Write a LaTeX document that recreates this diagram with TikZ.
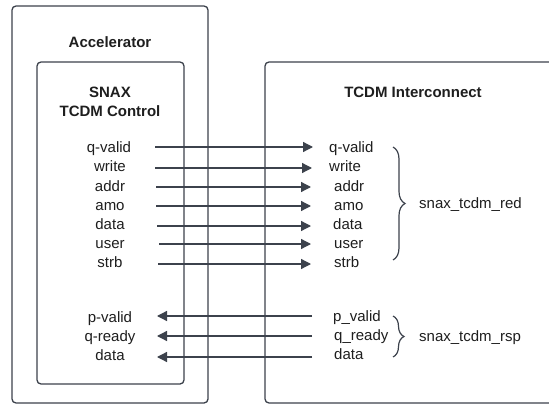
\documentclass[tikz,border=0pt]{standalone}
\usepackage{fontspec}
\setmainfont{Liberation Sans}
\usetikzlibrary{arrows.meta,decorations.pathreplacing}
\definecolor{linegray}{HTML}{3C424C}
\definecolor{textdark}{HTML}{1E1E1E}

\begin{document}
\begin{tikzpicture}[x=1pt,y=-1pt,
  box/.style={draw=linegray,line width=1.3pt,rounded corners=4pt},
  title/.style={font=\fontsize{15}{19}\selectfont\bfseries,text=textdark,align=center,inner sep=0pt},
  sig/.style={font=\fontsize{15}{17}\selectfont,text=textdark,inner sep=0pt,text height=11pt,text depth=3pt},
  wire/.style={draw=linegray,line width=1.3pt,-{Triangle[length=10pt,width=10pt]}},
  grp/.style={draw=linegray,line width=1.2pt,decorate,decoration={brace,amplitude=12pt}}]
\useasboundingbox (0,0) rectangle (549,404);
\fill[white] (0,0) rectangle (549,404);

% enclosing blocks
\draw[box] (12,6) rectangle (208,403);
\draw[box] (37,62) rectangle (184,384);
\draw[box] (560,62) -- (265,62) -- (265,403) -- (560,403);

% block titles
\node[title] (acc) at (110,42) {Accelerator};
\node[title] (ctrl) at (110,102) {SNAX\\TCDM Control};
\node[title] (ic) at (413,92) {TCDM Interconnect};

% request signals (controller side)
\node[sig] (lqv) at (109,148) {q-valid};
\node[sig] (lwr) at (110,167) {write};
\node[sig] (lad) at (110,187) {addr};
\node[sig] (lam) at (110,206) {amo};
\node[sig] (lda) at (110,225) {data};
\node[sig] (lus) at (110,244) {user};
\node[sig] (lst) at (110,263) {strb};

% response signals (controller side)
\node[sig] (lpv) at (110,318) {p-valid};
\node[sig] (lqr) at (110,337) {q-ready};
\node[sig] (ldr) at (110,356) {data};

% request signals (interconnect side)
\node[sig,anchor=west] (rqv) at (329,148) {q-valid};
\node[sig,anchor=west] (rwr) at (329,167) {write};
\node[sig,anchor=west] (rad) at (334,187) {addr};
\node[sig,anchor=west] (ram) at (334,206) {amo};
\node[sig,anchor=west] (rda) at (333,225) {data};
\node[sig,anchor=west] (rus) at (334,244) {user};
\node[sig,anchor=west] (rst) at (334,263) {strb};

% response signals (interconnect side)
\node[sig,anchor=west] (rpv) at (333,317) {p\_valid};
\node[sig,anchor=west] (rqr) at (334,336) {q\_ready};
\node[sig,anchor=west] (rdr) at (334,355) {data};

% wire end points
\foreach \n/\xa/\xb/\y in {qv/155/313/147, wr/155/312/168, ad/156/311/187, am/156/311/206,
                          da/157/311/226, us/159/311/244, st/158/311/264}{
  \coordinate (s\n) at (\xa,\y);
  \coordinate (t\n) at (\xb,\y);
}
\foreach \n/\y in {pv/316, qr/336, dr/357}{
  \coordinate (s\n) at (312,\y);
  \coordinate (t\n) at (157,\y);
}

% request wires
\foreach \n in {qv,wr,ad,am,da,us,st}{
  \draw[wire] (s\n) -- (t\n);
}
% response wires
\foreach \n in {pv,qr,dr}{
  \draw[wire] (s\n) -- (t\n);
}

% bundle braces
\coordinate (bra) at (393,147);
\coordinate (brb) at (393,260);
\coordinate (bsa) at (393,316);
\coordinate (bsb) at (393,357);
\draw[grp] (bra) -- (brb);
\draw[grp,decoration={amplitude=11pt}] (bsa) -- (bsb);

\node[sig,anchor=west] (req) at (419,204) {snax\_tcdm\_red};
\node[sig,anchor=west] (rsp) at (419,337) {snax\_tcdm\_rsp};
\end{tikzpicture}
\end{document}
